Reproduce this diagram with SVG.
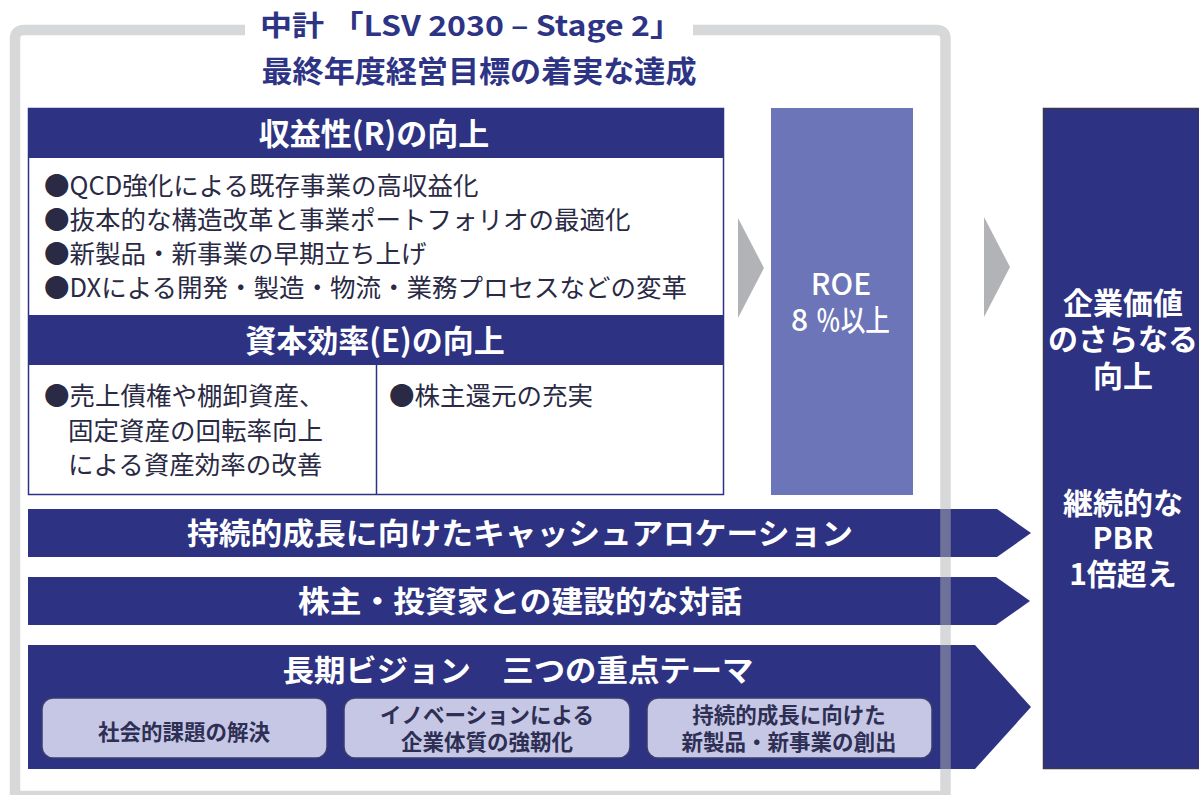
<svg xmlns="http://www.w3.org/2000/svg" width="1199" height="795" viewBox="0 0 1199 795">
<style>
text{font-family:"Noto Sans CJK JP","Noto Sans",sans-serif}
.navy{fill:#2d3282}
.hdr{fill:#ffffff;font-weight:bold;font-size:31px;text-anchor:middle}
.body{fill:#2a2a45;font-size:25.5px}
.ban{fill:#ffffff;font-weight:bold;font-size:30px;text-anchor:middle}
.sub{fill:#c6c7e4;stroke:#3a3d6e;stroke-width:1.5}
.subt{fill:#2e2f55;font-weight:bold;font-size:21.5px;text-anchor:middle}
.big{fill:#ffffff;font-weight:bold;font-size:30px;text-anchor:middle}
.roe{fill:#ffffff;font-weight:500;font-size:30px}
.tri{fill:#b2b3b6}
.title{fill:#2e3485;text-anchor:middle}
</style>
<rect width="1199" height="795" fill="#ffffff"/>

<g id="title">
<text class="title" x="471" y="36" font-size="28" font-weight="600" textLength="422" lengthAdjust="spacingAndGlyphs">中計 「LSV 2030 – Stage 2」</text>
<text class="title" x="479" y="82" font-size="30" font-weight="bold" textLength="435" lengthAdjust="spacingAndGlyphs">最終年度経営目標の着実な達成</text>
</g>

<g id="node-roa-profit">
<rect x="28.5" y="108.5" width="695" height="386" fill="#ffffff" stroke="#2d3282" stroke-width="1.5"/>
<rect class="navy" x="28" y="108" width="696" height="50"/>
<text class="hdr" x="374" y="145">収益性(R)の向上</text>
<text class="body" x="44" y="195">●QCD強化による既存事業の高収益化</text>
<text class="body" x="44" y="229">●抜本的な構造改革と事業ポートフォリオの最適化</text>
<text class="body" x="44" y="263">●新製品・新事業の早期立ち上げ</text>
<text class="body" x="44" y="297">●DXによる開発・製造・物流・業務プロセスなどの変革</text>
</g>

<g id="node-capital-efficiency">
<rect class="navy" x="28" y="315" width="696" height="50"/>
<text class="hdr" x="375" y="352">資本効率(E)の向上</text>
<line x1="376.5" y1="365" x2="376.5" y2="494" stroke="#2d3282" stroke-width="1.5"/>
<text class="body" x="44" y="405">●売上債権や棚卸資産、</text>
<text class="body" x="68" y="440">固定資産の回転率向上</text>
<text class="body" x="68" y="474">による資産効率の改善</text>
<text class="body" x="389" y="405">●株主還元の充実</text>
</g>

<g id="node-roe">
<rect x="771" y="108" width="142" height="387" fill="#6c75b7"/>
<text class="roe" x="841" y="295" text-anchor="middle">ROE</text>
<text class="roe" y="331"><tspan x="791">8</tspan><tspan x="816" textLength="74" lengthAdjust="spacingAndGlyphs">％以上</tspan></text>
</g>

<g id="node-value">
<rect x="1043.5" y="108.5" width="160" height="660" fill="#2d3282" stroke="#3a3a48" stroke-width="1.5"/>
<text class="big" x="1123" y="314">企業価値</text>
<text class="big" x="1123" y="350">のさらなる</text>
<text class="big" x="1123" y="387">向上</text>
<text class="big" x="1123" y="514">継続的な</text>
<text class="big" x="1123" y="549">PBR</text>
<text class="big" x="1123" y="585">1倍超え</text>
</g>

<g id="node-cash">
<polygon class="navy" points="28,509 997,509 1031,533 997,557 28,557"/>
<text class="ban" x="520" y="544" textLength="666" lengthAdjust="spacingAndGlyphs">持続的成長に向けたキャッシュアロケーション</text>
</g>

<g id="node-dialogue">
<polygon class="navy" points="28,577 996,577 1030,601 996,625 28,625"/>
<text class="ban" x="520" y="612" textLength="444" lengthAdjust="spacingAndGlyphs">株主・投資家との建設的な対話</text>
</g>

<g id="node-vision">
<polygon class="navy" points="28,645 975,645 1031,707 975,769 28,769"/>
<text class="ban" x="518" y="681" textLength="471" lengthAdjust="spacingAndGlyphs">長期ビジョン　三つの重点テーマ</text>
<g id="theme-1">
<rect class="sub" x="42" y="698" width="285" height="60" rx="11"/>
<text class="subt" x="184" y="740">社会的課題の解決</text>
</g>
<g id="theme-2">
<rect class="sub" x="344" y="698" width="286" height="60" rx="11"/>
<text class="subt" x="487" y="723">イノベーションによる</text>
<text class="subt" x="487" y="750">企業体質の強靭化</text>
</g>
<g id="theme-3">
<rect class="sub" x="647" y="698" width="285" height="60" rx="11"/>
<text class="subt" x="789" y="723">持続的成長に向けた</text>
<text class="subt" x="789" y="750">新製品・新事業の創出</text>
</g>
</g>

<g id="connectors">
<polygon class="tri" points="738,218 764,268 738,318"/>
<polygon class="tri" points="984,217 1010,267 984,317"/>
</g>

<g id="frame">
<path d="M245,30 H24 Q15,30 15,39 V796 H945.5 V39 Q945.5,30 936.5,30 H693" fill="none" stroke="#b0b1b4" stroke-opacity="0.5" stroke-width="10.5"/>
</g>
</svg>
